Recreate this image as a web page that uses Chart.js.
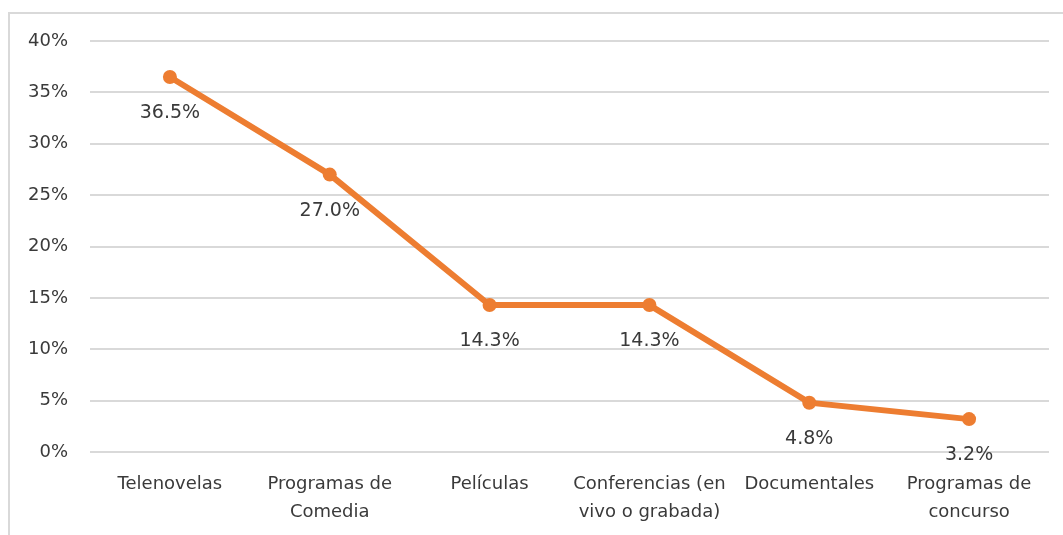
<!DOCTYPE html>
<html>
<head>
<meta charset="utf-8">
<script src="https://cdn.jsdelivr.net/npm/chart.js@4"></script>
<style>
  html, body { margin: 0; padding: 0; background: #fff; }
  #wrap { position: relative; width: 1063px; height: 535px; overflow: hidden; }
  #frame { position: absolute; left: 8px; top: 12px; width: 1060px; height: 540px; border: 2px solid #d9d9d9; box-sizing: border-box; }
  canvas { position: absolute; left: 0; top: 0; }
</style>
</head>
<body>
<div id="wrap">
  <div id="frame"></div>
  <canvas id="chart" width="1063" height="535"></canvas>
</div>
<script>
// Categorías y valores
const categories = [
  'Telenovelas',
  ['Programas de', 'Comedia'],
  'Películas',
  ['Conferencias (en', 'vivo o grabada)'],
  'Documentales',
  ['Programas de', 'concurso']
];
const values = [36.5, 27.0, 14.3, 14.3, 4.8, 3.2];
const yTicks = [0, 5, 10, 15, 20, 25, 30, 35, 40];

const orange = '#ED7D31';
const textColor = '#3a3a3a';
const fontFamily = "'DejaVu Sans', Verdana, sans-serif";

// Etiquetas de datos debajo de cada punto
const dataLabels = {
  id: 'dataLabels',
  afterDatasetsDraw(chart) {
    const ctx = chart.ctx;
    const meta = chart.getDatasetMeta(0);
    ctx.save();
    ctx.font = '19px ' + fontFamily;
    ctx.fillStyle = textColor;
    ctx.textAlign = 'center';
    ctx.textBaseline = 'middle';
    meta.data.forEach((pt, i) => {
      ctx.fillText(values[i].toFixed(1) + '%', pt.x, pt.y + 36);
    });
    ctx.restore();
  }
};

new Chart(document.getElementById('chart').getContext('2d'), {
  type: 'line',
  data: {
    labels: categories,
    datasets: [{
      data: values,
      borderColor: orange,
      backgroundColor: orange,
      borderWidth: 6,
      pointRadius: 7,
      pointHoverRadius: 7,
      pointBorderWidth: 0,
      tension: 0,
      fill: false
    }]
  },
  options: {
    responsive: false,
    animation: false,
    layout: { padding: { top: 41, right: 14, left: 0, bottom: 0 } },
    plugins: {
      legend: { display: false },
      tooltip: { enabled: false }
    },
    scales: {
      x: {
        offset: true,
        grid: { display: false },
        border: { display: false },
        ticks: {
          color: textColor,
          font: { family: fontFamily, size: 18, lineHeight: 1.55 },
          maxRotation: 0,
          autoSkip: false,
          padding: 10
        },
        afterFit(scale) { scale.height = 83; }
      },
      y: {
        min: 0,
        max: 40,
        afterBuildTicks(scale) { scale.ticks = yTicks.map(v => ({ value: v })); },
        grid: { color: '#d9d9d9', lineWidth: 2, drawTicks: false },
        border: { display: false },
        ticks: {
          color: textColor,
          font: { family: fontFamily, size: 18 },
          padding: 22,
          callback: v => v + '%'
        },
        afterFit(scale) { scale.width = 90; }
      }
    }
  },
  plugins: [dataLabels]
});
</script>
</body>
</html>
